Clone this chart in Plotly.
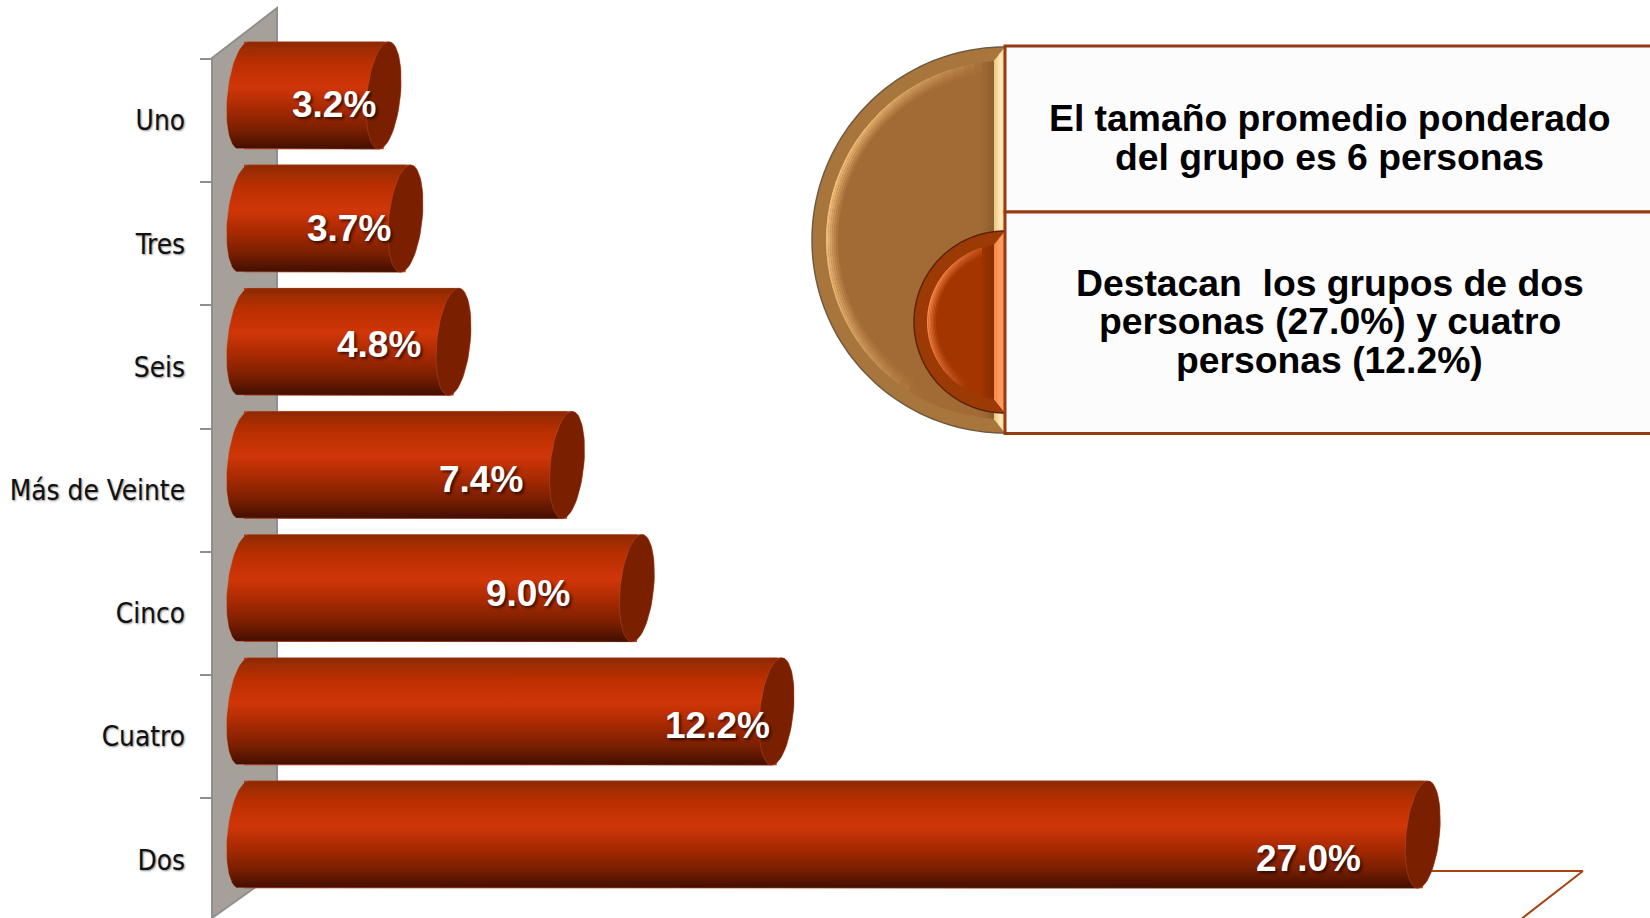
import math
import plotly.graph_objects as go

# ---- data ----
categories = ["Uno", "Tres", "Seis", "Más de Veinte", "Cinco", "Cuatro", "Dos"]
values = [3.2, 3.7, 4.8, 7.4, 9.0, 12.2, 27.0]
value_labels = ["3.2%", "3.7%", "4.8%", "7.4%", "9.0%", "12.2%", "27.0%"]
panel_top_lines = ["El tamaño promedio ponderado", "del grupo es 6 personas"]
panel_bottom_lines = ["Destacan\u00a0 los grupos de dos", "personas (27.0%) y cuatro", "personas (12.2%)"]

# ---- layout constants ----
W, H = 1650, 918
PX_PER_UNIT = 43.66
ZERO_PX = 244.0
BAND_PX = 123.2
FIRST_BAND_PX = 120.6
X_RANGE = [-ZERO_PX / PX_PER_UNIT, (W - ZERO_PX) / PX_PER_UNIT]
Y_RANGE = [(H - FIRST_BAND_PX) / BAND_PX, -FIRST_BAND_PX / BAND_PX]
BAR_SHIFT = -25.2 / BAND_PX      # 3D depth: bars sit above their category band
BAR_WIDTH = 107.5 / BAND_PX
CAP_RX = 16.8 / PX_PER_UNIT
CAP_SKEW = 5.0 / PX_PER_UNIT
LABEL_XSHIFT = [-50, -57, -75, -86, -109, -59.5, -114]
LABEL_YSHIFT = [16, 15.5, 22.5, 11, 19.5, 11, 1]

BAR_GRADIENT = [[0.0, "#8a2803"], [0.06, "#9c2c02"], [0.2, "#bb2f00"], [0.42, "#d03608"],
                [0.62, "#a82a02"], [0.82, "#7a1f01"], [1.0, "#420e00"]]
CAP_COLOR = "#7a2000"
EDGE = "rgba(200,120,90,0.35)"


def ellipse_point(cx, cy, ry, t):
    return (cx + CAP_RX * math.cos(t) - CAP_SKEW * math.sin(t), cy + ry * math.sin(t))


def body_path(v, cy):
    ry = BAR_WIDTH / 2
    pts = []
    for k in range(41):  # right half, top to bottom
        pts.append(ellipse_point(v, cy, ry, -math.pi / 2 + math.pi * k / 40))
    for k in range(41):  # left half, bottom to top
        pts.append(ellipse_point(0, cy, ry, math.pi / 2 + math.pi * k / 40))
    pts.append(pts[0])
    return [p[0] for p in pts], [p[1] for p in pts]


def cap_path(v, cy):
    ry = BAR_WIDTH / 2
    pts = [ellipse_point(v, cy, ry, 2 * math.pi * k / 80) for k in range(81)]
    return [p[0] for p in pts], [p[1] for p in pts]


def px(x):
    return x / W


def py(y):
    return 1 - y / H


def poly(points, fill, line=None, lw=0):
    d = "M" + " L".join(f"{px(x):.5f},{py(y):.5f}" for x, y in points) + " Z"
    return dict(type="path", xref="paper", yref="paper", path=d, fillcolor=fill,
                line=dict(color=line or fill, width=lw), layer="above")


def mix(a, b, t):
    ca = [int(a[i:i + 2], 16) for i in (1, 3, 5)]
    cb = [int(b[i:i + 2], 16) for i in (1, 3, 5)]
    return "#" + "".join(f"{round(p + (q - p) * t):02x}" for p, q in zip(ca, cb))


def half_disc(cx, cy, r, a0=-90.0, a1=90.0, n=90):
    pts = []
    for k in range(n + 1):
        a = math.radians(a0 + (a1 - a0) * k / n)
        pts.append((cx - r * math.cos(a), cy + r * math.sin(a)))
    return pts


def bevel_disc(cx, cy, r, rim, base, light, edge, strip, strip_hi, shadow, bevel=14, fade=12, strip_w=11):
    out = [poly(half_disc(cx, cy, r), rim, edge, 1.5)]
    inner = r - bevel
    x_in = cx - strip_w
    out.append(poly(half_disc(cx, cy, inner), base))
    sectors = 44
    steps = 6
    for i in range(sectors):
        a0 = -84 + 168 * i / sectors
        a1 = -84 + 168 * (i + 1) / sectors
        mid = (a0 + a1) / 2
        h = max(0.0, math.cos(math.radians((mid + 12) * 1.25))) ** 0.8
        if h < 0.03:
            continue
        for s in range(steps):
            r0 = inner - fade * (s + 1) / steps
            r1 = inner - fade * s / steps
            col = mix(base, light, h * (1 - s / steps) ** 1.1)
            seg = half_disc(cx, cy, r1, a0, a1 + 0.4, 3) + half_disc(cx, cy, r0, a1 + 0.4, a0, 3)
            out.append(poly(seg, col))
    # inner vertical shadow next to the strip
    for j in range(4):
        xa = x_in - 12 + 3 * j
        d0 = math.sqrt(max(inner ** 2 - (cx - xa) ** 2, 0))
        d1 = math.sqrt(max(inner ** 2 - (cx - xa - 3) ** 2, 0))
        out.append(poly([(xa, cy - d0), (xa + 3, cy - d1), (xa + 3, cy + d1), (xa, cy + d0)],
                        mix(base, shadow, (j + 1) / 4)))
    # light strip along the straight edge, mitred at the corners
    top = cy - r
    bot = cy + r
    for j in range(strip_w):
        f = j / strip_w
        col = mix(strip, strip_hi, min(1, f * 2)) if f < 0.6 else mix(strip_hi, strip, (f - 0.6) / 0.4)
        xa = x_in + j
        out.append(poly([(xa, top + (cx - xa) * 1.25), (xa + 1.2, top + (cx - xa - 1.2) * 1.25),
                         (xa + 1.2, bot - (cx - xa - 1.2) * 1.25), (xa, bot - (cx - xa) * 1.25)], col))
    return out


fig = go.Figure()

# real bars (scale-driven base layer)
fig.add_trace(go.Bar(
    x=values, y=categories, orientation="h", width=BAR_WIDTH,
    offset=BAR_SHIFT - BAR_WIDTH / 2, marker=dict(color="#bb2f00", line=dict(width=0)),
    hoverinfo="x+y", showlegend=False))

# cylinder bodies and end caps
for i, v in enumerate(values):
    cy = i + BAR_SHIFT
    xs, ys = body_path(v, cy)
    fig.add_trace(go.Scatter(
        x=xs, y=ys, yaxis="y2", mode="lines", fill="toself", hoverinfo="skip", showlegend=False,
        line=dict(color=EDGE, width=1),
        fillgradient=dict(type="vertical", colorscale=BAR_GRADIENT,
                          start=cy - BAR_WIDTH / 2, stop=cy + BAR_WIDTH / 2)))
    xs, ys = cap_path(v, cy)
    fig.add_trace(go.Scatter(
        x=xs, y=ys, yaxis="y2", mode="lines", fill="toself", fillcolor=CAP_COLOR, hoverinfo="skip",
        showlegend=False, line=dict(color="rgba(200,110,80,0.3)", width=1)))

shapes = []
# side wall
wall = [(212, 58), (277, 8), (277, 872), (212, 918), (212, 58)]
s = poly(wall, "#a6a09b", "#8f8f8f", 2)
s["layer"] = "below"
shapes.append(s)
# floor outline
for a, b in [((277, 871), (1583, 871)), ((1583, 871), (1520, 920))]:
    shapes.append(dict(type="line", xref="paper", yref="paper", x0=px(a[0]), y0=py(a[1]),
                       x1=px(b[0]), y1=py(b[1]), line=dict(color="#a84412", width=2), layer="below"))

# callout panel
shapes += bevel_disc(1005, 240, 193, "#a8753c", "#a26b35", "#f2bf7c", "#6f5c40",
                     "#f0c686", "#fce8b4", "#8c602e")
shapes += bevel_disc(1005, 322, 91, "#9c3a05", "#a33500", "#f98c4e", "#5e2408",
                     "#f78a4b", "#fb9a62", "#8a2d00", bevel=13, fade=9)
PANEL_EDGE = "#963a12"
for y0, y1 in [(46, 212), (212, 433.5)]:
    shapes.append(dict(type="rect", xref="paper", yref="paper", x0=px(1005), x1=px(1660),
                       y0=py(y0), y1=py(y1), fillcolor="#fcfcfc",
                       line=dict(color=PANEL_EDGE, width=3), layer="above"))

annotations = []
for i, (v, lab) in enumerate(zip(values, value_labels)):
    annotations.append(dict(x=v, y=i, xref="x", yref="y2", text=f"<b>{lab}</b>", showarrow=False,
                            xanchor="center", yanchor="middle",
                            xshift=LABEL_XSHIFT[i], yshift=LABEL_YSHIFT[i],
                            font=dict(family="Liberation Sans", size=37, color="white",
                                      shadow="2px 2px 3px rgba(0,0,0,0.65)")))
for text, y in zip(panel_top_lines, [118, 157]):
    annotations.append(dict(x=px(1329.5), y=py(y), xref="paper", yref="paper", text=f"<b>{text}</b>",
                            showarrow=False, xanchor="center", yanchor="middle",
                            font=dict(family="Liberation Sans", size=37.3, color="black")))
for text, y in zip(panel_bottom_lines, [283, 321, 360]):
    annotations.append(dict(x=px(1329.5), y=py(y), xref="paper", yref="paper", text=f"<b>{text}</b>",
                            showarrow=False, xanchor="center", yanchor="middle",
                            font=dict(family="Liberation Sans", size=37.3, color="black")))

fig.update_layout(
    width=W, height=H, margin=dict(l=0, r=0, t=0, b=0),
    paper_bgcolor="white", plot_bgcolor="rgba(0,0,0,0)", showlegend=False,
    shapes=shapes, annotations=annotations,
    xaxis=dict(range=X_RANGE, visible=False, domain=[0, 1], fixedrange=True),
    yaxis=dict(type="category", categoryorder="array", categoryarray=categories, range=Y_RANGE,
               anchor="free", position=212 / W, showgrid=False, zeroline=False,
               showline=False,
               ticks="outside", ticklen=12, tickwidth=1.5, tickcolor="#8f8f8f", tickson="boundaries",
               ticksuffix="\u00a0", ticklabelstandoff=19,
               tickfont=dict(family="DejaVu Sans Condensed, DejaVu Sans", size=27.8, color="#111111",
                             shadow="1px 1px 2px rgba(0,0,0,0.45)")),
    yaxis2=dict(range=Y_RANGE, overlaying="y", visible=False, fixedrange=True),
)

fig.write_html("out.html", config=dict(displayModeBar=False),
               post_script="document.body.style.margin='0';document.body.style.overflow='hidden';")
